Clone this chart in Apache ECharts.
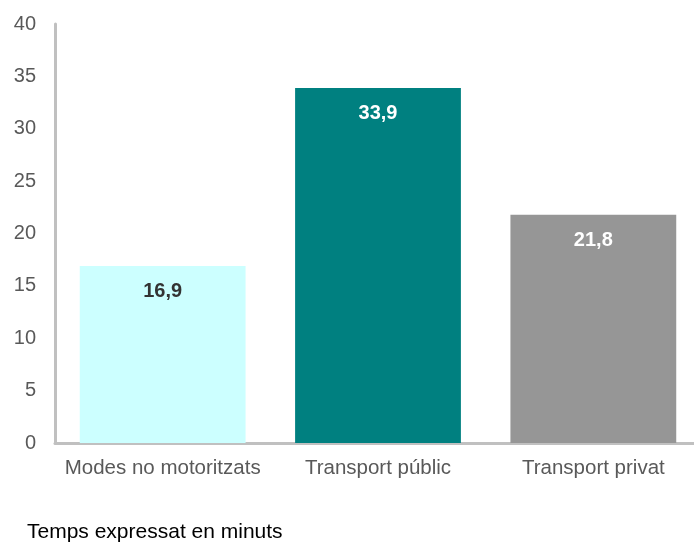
<!DOCTYPE html>
<html>
<head>
<meta charset="utf-8">
<script src="https://cdn.jsdelivr.net/npm/echarts@6/dist/echarts.min.js"></script>
<style>
  html, body { margin: 0; padding: 0; background: #fff; overflow: hidden; }
  #chart { width: 710px; height: 542px; }
</style>
</head>
<body>
<div id="chart"></div>
<script>
// Average travel time by mode (minutes)
const categories = ['Modes no motoritzats', 'Transport públic', 'Transport privat'];
const values = [16.9, 33.9, 21.8];
const barColors = ['#CCFFFF', '#008080', '#969696'];
const labelColors = ['#333333', '#FFFFFF', '#FFFFFF'];
const yTicks = [0, 5, 10, 15, 20, 25, 30, 35, 40];

const chart = echarts.init(document.getElementById('chart'));
const font = 'Liberation Sans, Arial, sans-serif';

chart.setOption({
  animation: false,
  // the plot area runs slightly past the right edge of the visible page
  grid: { left: 55, right: 9, top: 24, bottom: 99, containLabel: false },
  xAxis: {
    type: 'category',
    data: categories,
    axisLine: { show: true, lineStyle: { color: '#C0C0C0', width: 3 } },
    axisTick: { show: false },
    axisLabel: {
      color: '#595959', fontSize: 20.5, fontFamily: font, margin: 15,
      interval: 0, hideOverlap: false
    }
  },
  yAxis: {
    type: 'value',
    min: yTicks[0],
    max: yTicks[yTicks.length - 1],
    interval: yTicks[1] - yTicks[0],
    axisLine: { show: true, lineStyle: { color: '#C0C0C0', width: 3 } },
    axisTick: { show: false },
    splitLine: { show: false },
    axisLabel: { color: '#595959', fontSize: 20, fontFamily: font, margin: 19 }
  },
  series: [{
    type: 'bar',
    barCategoryGap: '23%',
    data: values.map((v, i) => ({
      value: v,
      itemStyle: { color: barColors[i] },
      label: { color: labelColors[i] }
    })),
    label: {
      show: true,
      position: 'insideTop',
      distance: 16,
      fontSize: 20,
      fontWeight: 'bold',
      fontFamily: font,
      formatter: p => String(p.value).replace('.', ',')
    }
  }],
  graphic: [{
    type: 'text',
    left: 27,
    top: 522,
    style: { text: 'Temps expressat en minuts', fill: '#000', fontSize: 21, fontFamily: font }
  }]
});
</script>
</body>
</html>
